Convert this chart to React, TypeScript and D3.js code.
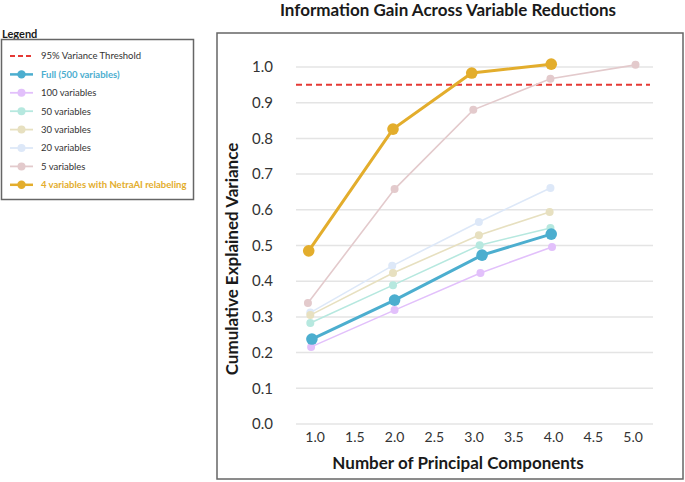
import React from 'react'
import * as d3 from 'd3'

// values (points sit slightly off the integer ticks)
const seriesNames = [
  '5 variables',
  '20 variables',
  '30 variables',
  '50 variables',
  '100 variables',
  'Full (500 variables)',
  '4 variables with NetraAI relabeling',
]
const seriesX = [
  [0.91, 2.0, 2.99, 3.96, 5.03],
  [0.94, 1.97, 3.06, 3.96],
  [0.94, 1.98, 3.06, 3.95],
  [0.94, 1.98, 3.07, 3.96],
  [0.95, 2.0, 3.08, 3.98],
  [0.96, 2.0, 3.1, 3.97],
  [0.92, 1.98, 2.97, 3.97],
]
const seriesY = [
  [0.339, 0.658, 0.88, 0.967, 1.006],
  [0.312, 0.443, 0.566, 0.661],
  [0.305, 0.423, 0.529, 0.594],
  [0.283, 0.389, 0.501, 0.549],
  [0.216, 0.319, 0.423, 0.496],
  [0.238, 0.347, 0.473, 0.532],
  [0.485, 0.826, 0.983, 1.008],
]
const seriesColors = ['#e3cacc', '#dde8f8', '#e7e0c0', '#b6e8df', '#e2c0fb', '#4caecf', '#e3ad2c']
const boldSeries = ['Full (500 variables)', '4 variables with NetraAI relabeling']

const legendOrder = [
  '95% Variance Threshold',
  'Full (500 variables)',
  '100 variables',
  '50 variables',
  '30 variables',
  '20 variables',
  '5 variables',
  '4 variables with NetraAI relabeling',
]
const threshold = 0.95
const xTicks = [1.0, 1.5, 2.0, 2.5, 3.0, 3.5, 4.0, 4.5, 5.0]
const yTicks = [0, 0.1, 0.2, 0.3, 0.4, 0.5, 0.6, 0.7, 0.8, 0.9, 1.0]

const font = 'Lato, "Open Sans", sans-serif'

export default function App() {
  const W = 685
  const H = 482
  const plot = { left: 296, right: 653, top: 67, bottom: 424 }

  const x = d3.scaleLinear().domain([0.76, 5.25]).range([plot.left, plot.right])
  const y = d3.scaleLinear().domain([0, 1]).range([plot.bottom, plot.top])
  const line = d3.line<[number, number]>().x(d => x(d[0])).y(d => y(d[1]))

  const colorOf = (name: string) => seriesColors[seriesNames.indexOf(name)]

  return (
    <div style={{ position: 'fixed', left: 0, top: 0 }}>
      <svg width={W} height={H} style={{ display: 'block', background: '#fff', fontFamily: font }}>
        {/* title */}
        <text x={448} y={15.5} textAnchor="middle" fontSize={17} fontWeight={700} fill="#1a1a1a">
          Information Gain Across Variable Reductions
        </text>

        {/* plot frame */}
        <rect x={217} y={33} width={466} height={446} fill="none" stroke="#666" strokeWidth={1.5} />

        {/* grid */}
        {yTicks.map(t => (
          <line key={t} x1={plot.left} x2={plot.right} y1={y(t)} y2={y(t)} stroke="#e4e4e4" strokeWidth={1.5} />
        ))}
        {yTicks.map(t => (
          <text key={'yl' + t} x={273} y={y(t)} dy="0.35em" textAnchor="end" fontSize={15} fill="#333">
            {t.toFixed(1)}
          </text>
        ))}
        {xTicks.map(t => (
          <text key={'xl' + t} x={x(t)} y={y(0) + 13} dy="0.35em" textAnchor="middle" fontSize={14} fill="#333">
            {t.toFixed(1)}
          </text>
        ))}

        {/* axis titles */}
        <text
          transform={`translate(232,259) rotate(-90)`}
          textAnchor="middle"
          dy="0.35em"
          fontSize={17}
          fontWeight={700}
          fill="#1a1a1a"
        >
          Cumulative Explained Variance
        </text>
        <text x={458} y={463} dy="0.35em" textAnchor="middle" fontSize={17} fontWeight={700} fill="#1a1a1a">
          Number of Principal Components
        </text>

        {/* threshold */}
        <line
          x1={plot.left}
          x2={650}
          y1={y(threshold)}
          y2={y(threshold)}
          stroke="#e53935"
          strokeWidth={2}
          strokeDasharray="6,4"
        />

        {/* series */}
        {seriesNames.map((name, i) => {
          const bold = boldSeries.includes(name)
          const pts = seriesX[i].map((v, j) => [v, seriesY[i][j]] as [number, number])
          return (
            <g key={name}>
              <path d={line(pts) || ''} fill="none" stroke={seriesColors[i]} strokeWidth={bold ? 3 : 1.6} />
              {pts.map((p, j) => (
                <circle key={j} cx={x(p[0])} cy={y(p[1])} r={bold ? 5.8 : 4} fill={seriesColors[i]} />
              ))}
            </g>
          )
        })}

        {/* legend */}
        <text x={2} y={34} dy="0.35em" fontSize={11} fontWeight={700} fill="#1a1a1a">
          Legend
        </text>
        <rect x={1.5} y={39.5} width={192} height={160} fill="#fff" stroke="#666" strokeWidth={1.5} />
        {legendOrder.map((name, i) => {
          const cy = 56 + i * 18.4
          if (i === 0) {
            return (
              <g key={name}>
                <line x1={10} x2={33} y1={cy} y2={cy} stroke="#e53935" strokeWidth={2} strokeDasharray="5,3" />
                <text x={41} y={cy} dy="0.35em" fontSize={9.5} fill="#333">
                  {name}
                </text>
              </g>
            )
          }
          const bold = boldSeries.includes(name)
          const c = colorOf(name)
          return (
            <g key={name}>
              <line x1={10} x2={33} y1={cy} y2={cy} stroke={c} strokeWidth={bold ? 2.5 : 1.8} />
              <circle cx={21.5} cy={cy} r={bold ? 4.2 : 4} fill={c} />
              <text
                x={41}
                y={cy}
                dy="0.35em"
                fontSize={9.5}
                fontWeight={bold ? 700 : 400}
                fill={bold ? c : '#333'}
              >
                {name}
              </text>
            </g>
          )
        })}
      </svg>
    </div>
  )
}
